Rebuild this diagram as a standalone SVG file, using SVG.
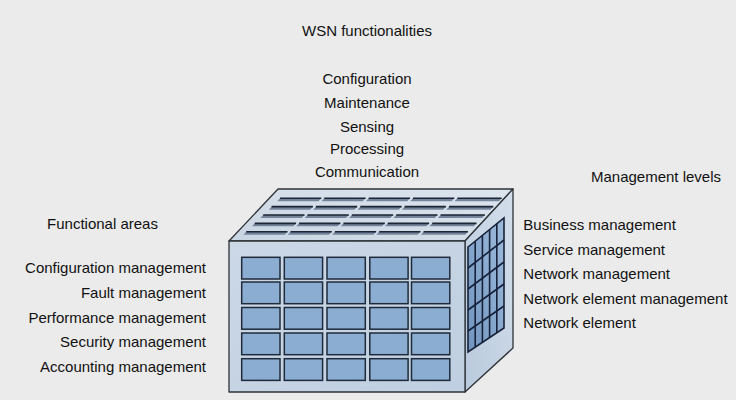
<svg xmlns="http://www.w3.org/2000/svg" width="736" height="400" viewBox="0 0 736 400">
  <style>
    .lbl { font-family: "Liberation Sans", Arial, sans-serif; font-size: 15px; fill: #111111; }
    .mid { text-anchor: middle; }
    .end { text-anchor: end; }
    .edge { stroke: #2e3338; stroke-width: 1.3; stroke-linejoin: round; }
    .cell { fill: #8badd2; stroke: #1f2b3a; stroke-width: 1.5; }
    .slot { fill: #74849a; }
    .slotTop { stroke: #1c2535; stroke-width: 1.6; fill: none; }
    .gridLine { stroke: #17223a; stroke-width: 1.6; fill: none; }
    .gridPanel { stroke: #17223a; stroke-width: 1.6; fill: url(#sideGrid); }
  </style>
  <defs>
    <linearGradient id="frontFill" x1="0" y1="0" x2="1" y2="1">
      <stop offset="0" stop-color="#ccd8e6"/>
      <stop offset="1" stop-color="#bfcfe1"/>
    </linearGradient>
    <linearGradient id="topFill" x1="0" y1="1" x2="1" y2="0">
      <stop offset="0" stop-color="#c9d5e3"/>
      <stop offset="1" stop-color="#dde5ee"/>
    </linearGradient>
    <linearGradient id="sideFill" x1="0" y1="1" x2="1" y2="0">
      <stop offset="0" stop-color="#b9cadd"/>
      <stop offset="1" stop-color="#d3deea"/>
    </linearGradient>
    <linearGradient id="sideGrid" x1="0" y1="1" x2="1" y2="0">
      <stop offset="0" stop-color="#7194be"/>
      <stop offset="1" stop-color="#9dbbdc"/>
    </linearGradient>
  </defs>

  <rect width="736" height="400" fill="#ebebeb"/>

  <!-- Cube: functional areas × management levels × WSN functionalities -->
  <g id="cube">
    <!-- faces -->
    <polygon points="229,241 278,189 513,189 465,241" fill="url(#topFill)" class="edge"/>
    <polygon points="465,241 513,189 513,348 465,392" fill="url(#sideFill)" class="edge"/>
    <rect x="229" y="241" width="236" height="151" fill="url(#frontFill)" class="edge"/>

    <!-- top face: 5 × 5 slots -->
    <g id="top-slots">
      <g transform="translate(0,0)">
        <polygon class="slot" points="280,198.3 321.3,198.3 318.5,201.3 277.2,201.3"/>
        <polygon class="slot" points="324.3,198.3 365.6,198.3 362.8,201.3 321.5,201.3"/>
        <polygon class="slot" points="368.7,198.3 410,198.3 407.2,201.3 365.9,201.3"/>
        <polygon class="slot" points="413,198.3 454.3,198.3 451.5,201.3 410.2,201.3"/>
        <polygon class="slot" points="457.4,198.3 501.7,198.3 498.9,201.3 454.6,201.3"/>
        <path class="slotTop" d="M280,198.3H321.3M324.3,198.3H365.6M368.7,198.3H410M413,198.3H454.3M457.4,198.3H501.7"/>
      </g>
      <g transform="translate(-8.4,8.35)">
        <polygon class="slot" points="280,198.3 321.3,198.3 318.5,201.3 277.2,201.3"/>
        <polygon class="slot" points="324.3,198.3 365.6,198.3 362.8,201.3 321.5,201.3"/>
        <polygon class="slot" points="368.7,198.3 410,198.3 407.2,201.3 365.9,201.3"/>
        <polygon class="slot" points="413,198.3 454.3,198.3 451.5,201.3 410.2,201.3"/>
        <polygon class="slot" points="457.4,198.3 501.7,198.3 498.9,201.3 454.6,201.3"/>
        <path class="slotTop" d="M280,198.3H321.3M324.3,198.3H365.6M368.7,198.3H410M413,198.3H454.3M457.4,198.3H501.7"/>
      </g>
      <g transform="translate(-16.8,16.7)">
        <polygon class="slot" points="280,198.3 321.3,198.3 318.5,201.3 277.2,201.3"/>
        <polygon class="slot" points="324.3,198.3 365.6,198.3 362.8,201.3 321.5,201.3"/>
        <polygon class="slot" points="368.7,198.3 410,198.3 407.2,201.3 365.9,201.3"/>
        <polygon class="slot" points="413,198.3 454.3,198.3 451.5,201.3 410.2,201.3"/>
        <polygon class="slot" points="457.4,198.3 501.7,198.3 498.9,201.3 454.6,201.3"/>
        <path class="slotTop" d="M280,198.3H321.3M324.3,198.3H365.6M368.7,198.3H410M413,198.3H454.3M457.4,198.3H501.7"/>
      </g>
      <g transform="translate(-25.2,25.05)">
        <polygon class="slot" points="280,198.3 321.3,198.3 318.5,201.3 277.2,201.3"/>
        <polygon class="slot" points="324.3,198.3 365.6,198.3 362.8,201.3 321.5,201.3"/>
        <polygon class="slot" points="368.7,198.3 410,198.3 407.2,201.3 365.9,201.3"/>
        <polygon class="slot" points="413,198.3 454.3,198.3 451.5,201.3 410.2,201.3"/>
        <polygon class="slot" points="457.4,198.3 501.7,198.3 498.9,201.3 454.6,201.3"/>
        <path class="slotTop" d="M280,198.3H321.3M324.3,198.3H365.6M368.7,198.3H410M413,198.3H454.3M457.4,198.3H501.7"/>
      </g>
      <g transform="translate(-33.8,33.4)">
        <polygon class="slot" points="280,198.3 321.3,198.3 318.5,201.3 277.2,201.3"/>
        <polygon class="slot" points="324.3,198.3 365.6,198.3 362.8,201.3 321.5,201.3"/>
        <polygon class="slot" points="368.7,198.3 410,198.3 407.2,201.3 365.9,201.3"/>
        <polygon class="slot" points="413,198.3 454.3,198.3 451.5,201.3 410.2,201.3"/>
        <polygon class="slot" points="457.4,198.3 501.7,198.3 498.9,201.3 454.6,201.3"/>
        <path class="slotTop" d="M280,198.3H321.3M324.3,198.3H365.6M368.7,198.3H410M413,198.3H454.3M457.4,198.3H501.7"/>
      </g>
    </g>

    <!-- front face: 5 × 5 cells -->
    <g id="front-cells">
      <rect class="cell" x="241.7" y="257.3" width="38.3" height="21.7"/>
      <rect class="cell" x="284.3" y="257.3" width="38.3" height="21.7"/>
      <rect class="cell" x="327" y="257.3" width="38.3" height="21.7"/>
      <rect class="cell" x="369.8" y="257.3" width="38.3" height="21.7"/>
      <rect class="cell" x="411.5" y="257.3" width="38.3" height="21.7"/>

      <rect class="cell" x="241.7" y="282" width="38.3" height="21.7"/>
      <rect class="cell" x="284.3" y="282" width="38.3" height="21.7"/>
      <rect class="cell" x="327" y="282" width="38.3" height="21.7"/>
      <rect class="cell" x="369.8" y="282" width="38.3" height="21.7"/>
      <rect class="cell" x="411.5" y="282" width="38.3" height="21.7"/>

      <rect class="cell" x="241.7" y="307.5" width="38.3" height="21.7"/>
      <rect class="cell" x="284.3" y="307.5" width="38.3" height="21.7"/>
      <rect class="cell" x="327" y="307.5" width="38.3" height="21.7"/>
      <rect class="cell" x="369.8" y="307.5" width="38.3" height="21.7"/>
      <rect class="cell" x="411.5" y="307.5" width="38.3" height="21.7"/>

      <rect class="cell" x="241.7" y="333" width="38.3" height="21.7"/>
      <rect class="cell" x="284.3" y="333" width="38.3" height="21.7"/>
      <rect class="cell" x="327" y="333" width="38.3" height="21.7"/>
      <rect class="cell" x="369.8" y="333" width="38.3" height="21.7"/>
      <rect class="cell" x="411.5" y="333" width="38.3" height="21.7"/>

      <rect class="cell" x="241.7" y="358.7" width="38.3" height="21.7"/>
      <rect class="cell" x="284.3" y="358.7" width="38.3" height="21.7"/>
      <rect class="cell" x="327" y="358.7" width="38.3" height="21.7"/>
      <rect class="cell" x="369.8" y="358.7" width="38.3" height="21.7"/>
      <rect class="cell" x="411.5" y="358.7" width="38.3" height="21.7"/>
    </g>

    <!-- side face: 5 × 5 grid -->
    <g id="side-grid">
      <polygon class="gridPanel" points="468,247 504,218 504,328 468,352"/>
      <path class="gridLine" d="M475.2,241.2L475.2,347.2M482.4,235.4L482.4,342.4M489.6,229.6L489.6,337.6M496.8,223.8L496.8,332.8"/>
      <path class="gridLine" d="M468,268L504,240M468,289L504,262M468,310L504,284M468,331L504,306"/>
    </g>
  </g>

  <!-- Axis: WSN functionalities -->
  <g id="functionalities">
    <text class="lbl mid" x="367" y="35.7">WSN functionalities</text>
    <text class="lbl mid" x="367" y="84.3">Configuration</text>
    <text class="lbl mid" x="367" y="107.7">Maintenance</text>
    <text class="lbl mid" x="367" y="131.7">Sensing</text>
    <text class="lbl mid" x="367" y="154.3">Processing</text>
    <text class="lbl mid" x="367" y="176.7">Communication</text>
  </g>

  <!-- Axis: functional areas -->
  <g id="functional-areas">
    <text class="lbl mid" x="102.5" y="229.3">Functional areas</text>
    <text class="lbl end" x="206" y="273.3">Configuration management</text>
    <text class="lbl end" x="206" y="297.5">Fault management</text>
    <text class="lbl end" x="206" y="322.7">Performance management</text>
    <text class="lbl end" x="206" y="347.3">Security management</text>
    <text class="lbl end" x="206" y="372.3">Accounting management</text>
  </g>

  <!-- Axis: management levels -->
  <g id="management-levels">
    <text class="lbl mid" x="656" y="181.7">Management levels</text>
    <text class="lbl" x="523.3" y="230">Business management</text>
    <text class="lbl" x="523.3" y="254.5">Service management</text>
    <text class="lbl" x="523.3" y="279">Network management</text>
    <text class="lbl" x="523.3" y="303.5">Network element management</text>
    <text class="lbl" x="523.3" y="328">Network element</text>
  </g>
</svg>
